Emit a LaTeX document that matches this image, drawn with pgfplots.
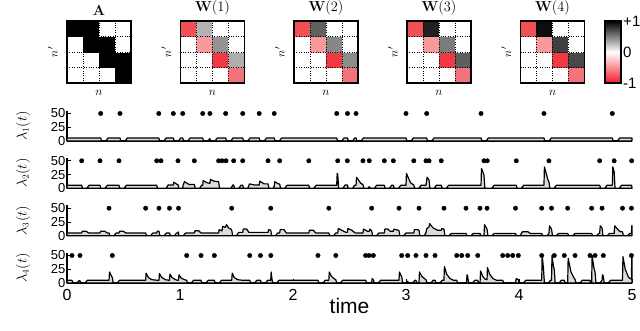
\documentclass[border=0pt]{standalone}
\usepackage[no-math]{fontspec}
\setmainfont{Liberation Sans}
\usepackage{pgfplots}
\usepackage{pgfplotstable}
\pgfplotsset{compat=1.18}

% connectivity matrices, row n' (top = 1) -> y = 5 - n'
\pgfplotstableread{
x y c
1 1 0
2 1 0
3 1 0
4 1 1
1 2 0
2 2 0
3 2 1
4 2 1
1 3 0
2 3 1
3 3 1
4 3 0
1 4 1
2 4 1
3 4 0
4 4 0
}\Atab
\pgfplotstableread{
x y c
1 1 0
2 1 0
3 1 0
4 1 -0.62
1 2 0
2 2 0
3 2 -0.88
4 2 0.32
1 3 0
2 3 -0.45
3 3 0.42
4 3 0
1 4 -0.78
2 4 0.30
3 4 0
4 4 0
}\Wone
\pgfplotstableread{
x y c
1 1 0
2 1 0
3 1 0
4 1 -0.62
1 2 0
2 2 0
3 2 -0.88
4 2 0.45
1 3 0
2 3 -0.45
3 3 0.47
4 3 0
1 4 -0.78
2 4 0.62
3 4 0
4 4 0
}\Wtwo
\pgfplotstableread{
x y c
1 1 0
2 1 0
3 1 0
4 1 -0.62
1 2 0
2 2 0
3 2 -0.88
4 2 0.63
1 3 0
2 3 -0.45
3 3 0.52
4 3 0
1 4 -0.78
2 4 0.87
3 4 0
4 4 0
}\Wthree
\pgfplotstableread{
x y c
1 1 0
2 1 0
3 1 0
4 1 -0.62
1 2 0
2 2 0
3 2 -0.88
4 2 0.72
1 3 0
2 3 -0.45
3 3 0.75
4 3 0
1 4 -0.78
2 4 0.95
3 4 0
4 4 0
}\Wfour

\pgfplotsset{
  /pgf/number format/assume math mode=true,
  mat/.style={
    width=64pt, height=62pt, scale only axis,
    xmin=0.5, xmax=4.5, ymin=0.5, ymax=4.5,
    xtick={1.5,2.5,3.5}, ytick={1.5,2.5,3.5},
    xticklabels={}, yticklabels={},
    major tick length=0pt,
    grid=major, grid style={black, dotted, line width=0.6pt},
    axis on top, axis line style={line width=1.6pt},
    colormap={rwk}{rgb255=(238,30,40) rgb255=(255,255,255) rgb255=(0,0,0)},
    point meta min=-1, point meta max=1,
    title style={at={(0.5,1)}, anchor=south, yshift=-4pt, font=\fontsize{15}{17}\selectfont},
    xlabel={$n$}, ylabel={$n'$},
    xlabel style={at={(axis description cs:0.5,-0.16)}, anchor=center, font=\fontsize{13}{15}\selectfont},
    ylabel style={at={(axis description cs:-0.22,0.5)}, anchor=center, font=\fontsize{13}{15}\selectfont},
  },
  ts/.style={
    width=565pt, height=30.25pt, scale only axis,
    xmin=0, xmax=5, ymin=0, ymax=55,
    axis x line*=bottom, axis y line*=left,
    axis line style={line width=1.5pt},
    ytick={0,25,50}, xtick=\empty,
    major tick length=3.5pt, tick style={line width=0.8pt, black},
    yticklabel style={font=\fontsize{13}{13}\selectfont, inner sep=1.5pt},
    clip=false,
    ylabel style={at={(axis description cs:-0.078,0.5)}, anchor=center, font=\fontsize{13.5}{15}\selectfont},
  },
  curve/.style={line width=1.2pt, black, fill=gray!28, line join=round},
  spk/.style={only marks, mark=*, mark size=2.2pt, black},
}

\begin{document}
\begin{tikzpicture}[x=1pt,y=1pt]
\useasboundingbox (0,0) rectangle (640,331);

% ---- matrices ----
\begin{axis}[mat, at={(67pt,248pt)}, anchor=south west, title={$\mathbf{A}$}]
  \addplot[matrix plot*, mesh/cols=4, point meta=explicit] table[meta=c] {\Atab};
\end{axis}
\begin{axis}[mat, at={(180.5pt,248pt)}, anchor=south west, title={$\mathbf{W}(1)$}]
  \addplot[matrix plot*, mesh/cols=4, point meta=explicit] table[meta=c] {\Wone};
\end{axis}
\begin{axis}[mat, at={(294pt,248pt)}, anchor=south west, title={$\mathbf{W}(2)$}]
  \addplot[matrix plot*, mesh/cols=4, point meta=explicit] table[meta=c] {\Wtwo};
\end{axis}
\begin{axis}[mat, at={(407pt,248pt)}, anchor=south west, title={$\mathbf{W}(3)$}]
  \addplot[matrix plot*, mesh/cols=4, point meta=explicit] table[meta=c] {\Wthree};
\end{axis}
\begin{axis}[mat, at={(520.5pt,248pt)}, anchor=south west, title={$\mathbf{W}(4)$},
  colorbar,
  colorbar style={width=16pt, at={(parent axis.north east)}, anchor=north west, xshift=12pt,
    ytick={-1,0,1}, yticklabels={-1,0,+1}, major tick length=0pt,
    yticklabel style={font=\fontsize{15}{17}\selectfont, inner sep=2pt},
    axis line style={line width=1.6pt}}]
  \addplot[matrix plot*, mesh/cols=4, point meta=explicit] table[meta=c] {\Wfour};
\end{axis}

% ---- lambda_1 ----
\begin{axis}[ts, at={(67pt,190pt)}, anchor=south west, ylabel={$\lambda_1(t)$}]
\addplot[curve] coordinates {
(0,5.5)(0.298,5.5)(0.306,0)(0.343,0)(0.363,5.5)
(0.469,5.5)(0.477,0)(0.514,0)(0.534,5.5)
(0.812,5.5)(0.820,0)(0.857,0)(0.877,5.5)
(0.941,5.5)(0.949,0)(0.986,0)(1.006,5.5)
(1.024,5.5)(1.032,0)(1.069,0)(1.089,5.5)
(1.201,5.5)(1.209,0)(1.246,0)(1.262,4)(1.265,4)(1.273,0)(1.310,0)(1.330,5.5)
(1.404,5.5)(1.412,0)(1.449,0)(1.469,5.5)
(1.555,5.5)(1.563,0)(1.600,0)(1.620,5.5)
(1.701,5.5)(1.709,0)(1.746,0)(1.766,5.5)
(1.834,5.5)(1.842,0)(1.879,0)(1.899,5.5)
(2.387,5.5)(2.395,0)(2.432,0)(2.452,5.5)
(2.482,5.5)(2.490,0)(2.527,0)(2.547,5.5)
(2.558,5.5)(2.566,0)(2.603,0)(2.623,5.5)
(3.000,5.5)(3.008,0)(3.045,0)(3.065,5.5)
(3.183,5.5)(3.191,0)(3.228,0)(3.248,5.5)
(3.664,5.5)(3.672,0)(3.709,0)(3.729,5.5)
(4.221,5.5)(4.229,0)(4.266,0)(4.286,5.5)
(4.826,5.5)(4.834,0)(4.871,0)(4.891,5.5)(5,5.5)
} \closedcycle;
\addplot[spk] coordinates {
(0.298,50)(0.469,50)(0.812,50)(0.941,50)(1.024,50)(1.201,50)(1.265,50)
(1.404,50)(1.555,50)(1.701,50)(1.834,50)(2.387,50)(2.482,50)(2.558,50)
(3.000,50)(3.183,50)(3.664,50)(4.221,50)(4.826,50)
};
\end{axis}

% ---- lambda_2 ----
\begin{axis}[ts, at={(67pt,142.7pt)}, anchor=south west, ylabel={$\lambda_2(t)$}]
\addplot[curve] coordinates {
(0,5.5)(0.130,5.5)(0.138,0)(0.175,0)(0.195,5.5)
(0.292,5.5)(0.300,0)(0.337,0)(0.357,5.5)
(0.460,5.5)(0.468,0)(0.505,0)(0.525,5.5)
(0.794,5.5)(0.802,0)(0.840,0)(0.877,0)(0.895,6)
(0.941,6)(0.945,11)(0.975,7)(0.982,7)(0.990,0)(1.024,0)(1.028,6)(1.040,12)(1.080,7)
(1.127,7)(1.135,0)(1.172,0)(1.192,5.5)
(1.201,5.5)(1.205,14)(1.240,10)(1.265,9)(1.269,16)(1.300,13)(1.342,12)(1.350,0)(1.450,0)(1.468,6)
(1.475,6)(1.483,0)(1.520,0)(1.540,5.5)(1.555,5.5)(1.563,0)(1.600,0)(1.615,8)(1.660,6)
(1.701,6)(1.705,13)(1.745,8)(1.779,8)(1.787,0)(1.824,0)(1.834,4)(1.838,12)(1.870,8)(1.882,8)(1.890,0)(1.927,0)(1.947,5.5)
(2.140,5.5)(2.148,0)(2.185,0)(2.205,5.5)
(2.387,5.5)(2.391,27)(2.396,25)(2.404,0)(2.441,0)(2.461,6)
(2.481,6)(2.489,0)(2.526,0)(2.546,5.5)
(2.558,5.5)(2.562,20)(2.600,9)(2.619,7)(2.627,0)(2.664,0)(2.675,3)(2.683,0)(2.720,0)(2.740,5.5)
(2.808,5.5)(2.816,0)(2.853,0)(2.873,5.5)
(2.888,5.5)(2.896,0)(2.933,0)(2.953,5.5)
(3.000,5.5)(3.004,27)(3.040,10)(3.069,6)(3.077,0)(3.114,0)(3.134,5.5)
(3.177,5.5)(3.187,20)(3.204,15)(3.212,0)(3.249,0)(3.269,5.5)
(3.312,5.5)(3.320,0)(3.357,0)(3.377,5.5)
(3.664,5.5)(3.668,36)(3.690,24)(3.698,0)(3.760,0)(3.780,5.5)
(3.976,5.5)(3.984,0)(4.021,0)(4.041,5.5)
(4.221,5.5)(4.225,39)(4.258,14)(4.265,12)(4.273,0)(4.310,0)(4.330,5.5)
(4.714,5.5)(4.722,0)(4.759,0)(4.779,5.5)
(4.826,5.5)(4.830,39)(4.842,30)(4.850,0)(4.887,0)(4.907,5.5)
(4.997,5.5)(5,0)
} \closedcycle;
\addplot[spk] coordinates {
(0.130,50)(0.292,50)(0.460,50)(0.794,50)(0.832,50)(0.982,50)(1.127,50)
(1.342,50)(1.372,50)(1.407,50)(1.475,50)(1.555,50)(1.779,50)(1.882,50)
(2.140,50)(2.396,50)(2.481,50)(2.619,50)(2.675,50)(2.808,50)(2.888,50)
(3.069,50)(3.177,50)(3.204,50)(3.312,50)(3.690,50)(3.719,50)(3.976,50)
(4.265,50)(4.714,50)(4.842,50)(4.997,50)
};
\end{axis}

% ---- lambda_3 ----
\begin{axis}[ts, at={(67pt,95.3pt)}, anchor=south west, ylabel={$\lambda_3(t)$}]
\addplot[curve] coordinates {
(0,5)(0.130,5)(0.135,8)(0.170,8)(0.190,5)
(0.292,5)(0.297,8)(0.335,8)(0.355,5)
(0.372,5)(0.380,0)(0.415,0)(0.435,5)
(0.460,5)(0.465,8)(0.500,8)(0.520,5)
(0.696,5)(0.704,0)(0.740,0)(0.760,5)
(0.794,5)(0.799,8)(0.814,8)(0.822,0)(0.860,0)(0.880,5)
(0.907,5)(0.915,0)(0.950,0)(0.970,5)
(0.982,5)(0.986,7)(0.990,0)(1.030,0)(1.050,5)
(1.127,5)(1.132,9)(1.165,9)(1.185,5)
(1.342,5)(1.347,11)(1.372,9)(1.377,17)(1.400,15)(1.412,20)(1.430,14)(1.450,12)(1.458,10)(1.466,0)(1.500,0)(1.520,6)
(1.555,6)(1.560,12)(1.590,12)(1.610,6)
(1.779,6)(1.784,11)(1.803,10)(1.811,0)(1.845,0)(1.865,5)
(1.882,5)(1.887,11)(1.920,11)(1.940,5)
(2.140,5)(2.145,10)(2.180,10)(2.200,5)
(2.317,5)(2.325,0)(2.360,0)(2.380,5)
(2.396,5)(2.401,13)(2.430,10)(2.470,6)(2.481,6)(2.486,13)(2.520,10)(2.550,5)
(2.619,5)(2.624,12)(2.660,8)(2.675,8)(2.680,12)(2.696,9)(2.704,0)(2.740,0)(2.760,5)
(2.808,5)(2.813,12)(2.840,12)(2.860,8)(2.888,8)(2.893,12)(2.930,10)(2.938,9)(2.946,0)(2.980,0)(3.000,5)
(3.069,5)(3.074,11)(3.100,11)(3.115,10)(3.123,0)(3.160,0)(3.177,5)(3.182,12)(3.204,16)(3.209,22)(3.240,14)(3.280,10)(3.312,10)(3.317,13)(3.336,12)(3.344,0)(3.380,0)(3.400,4)
(3.531,4)(3.539,0)(3.575,0)(3.595,4)
(3.655,4)(3.663,0)(3.690,0)(3.695,20)(3.717,12)(3.725,0)(3.760,0)(3.780,4)
(3.969,4)(3.977,0)(4.010,0)(4.030,7)(4.080,7)(4.100,4)
(4.201,4)(4.209,0)(4.245,0)(4.265,4)(4.270,18)(4.288,12)(4.296,0)(4.330,0)(4.350,4)
(4.431,4)(4.439,0)(4.475,0)(4.495,4)
(4.643,4)(4.651,0)(4.685,0)(4.705,4)(4.714,4)(4.719,18)(4.735,14)(4.743,0)(4.780,0)(4.800,4)
(4.842,4)(4.847,18)(4.880,10)(4.900,7)(4.916,7)(4.924,0)(4.960,0)(4.980,4)(4.995,4)(4.998,18)(5,18)
} \closedcycle;
\addplot[spk] coordinates {
(0.372,50)(0.696,50)(0.814,50)(0.907,50)(0.987,50)(1.458,50)(1.803,50)
(2.317,50)(2.696,50)(2.938,50)(3.115,50)(3.336,50)(3.531,50)(3.655,50)
(3.717,50)(3.969,50)(4.201,50)(4.288,50)(4.431,50)(4.643,50)(4.735,50)
(4.916,50)(4.995,50)
};
\end{axis}

% ---- lambda_4 ----
\begin{axis}[ts, at={(67pt,48pt)}, anchor=south west, ylabel={$\lambda_4(t)$},
  xtick={0,1,2,3,4,5}, xticklabel style={font=\fontsize{16}{18}\selectfont, yshift=-2.5pt},
  xlabel={time}, xlabel style={at={(axis description cs:0.5,-0.76)}, anchor=center, font=\fontsize{21}{23}\selectfont}]
\addplot[curve] coordinates {
(0,5)(0.044,5)(0.052,0)(0.085,0)(0.105,4)(0.115,4)(0.123,0)(0.160,0)(0.180,5)
(0.372,5)(0.376,20)(0.395,12)(0.401,10)(0.409,0)(0.445,0)(0.465,5)
(0.696,5)(0.700,18)(0.720,10)(0.750,6)(0.800,5)
(0.814,5)(0.818,17)(0.840,10)(0.870,6)(0.900,5)
(0.907,5)(0.911,16)(0.930,10)(0.960,6)(0.980,5)
(0.987,5)(0.991,15)(1.010,9)(1.040,6)(1.059,5)(1.067,0)(1.100,0)(1.120,5)
(1.186,5)(1.194,0)(1.230,0)(1.250,5)
(1.304,5)(1.312,0)(1.348,0)(1.368,5)
(1.458,5)(1.462,18)(1.480,10)(1.510,6)(1.550,5)
(1.617,5)(1.625,0)(1.660,0)(1.680,5)
(1.712,5)(1.720,0)(1.756,0)(1.776,5)
(1.803,5)(1.807,20)(1.812,10)(1.820,0)(1.856,0)(1.876,5)
(2.221,5)(2.229,0)(2.265,0)(2.285,5)
(2.317,5)(2.321,20)(2.340,12)(2.370,7)(2.379,6)(2.387,0)(2.420,0)(2.440,5)
(2.643,5)(2.651,0)(2.696,0)(2.700,8)(2.711,6)(2.719,0)(2.755,0)(2.775,5)
(2.938,5)(2.942,20)(2.955,14)(2.962,12)(2.970,0)(3.005,0)(3.015,3)(3.023,0)(3.060,0)(3.080,5)
(3.088,5)(3.096,0)(3.115,0)(3.119,20)(3.140,12)(3.170,7)(3.177,6)(3.185,0)(3.220,0)(3.240,5)
(3.257,5)(3.265,0)(3.300,0)(3.320,5)
(3.336,5)(3.340,30)(3.360,16)(3.390,8)(3.420,5)
(3.449,5)(3.457,0)(3.535,0)(3.540,15)(3.546,12)(3.554,0)(3.590,0)(3.610,5)
(3.635,5)(3.643,0)(3.655,0)(3.660,22)(3.680,12)(3.700,7)(3.717,6)(3.721,28)(3.740,16)(3.770,8)(3.800,5)
(3.856,5)(3.864,0)(3.969,0)(3.975,8)(3.994,6)(4.002,0)(4.040,0)(4.060,5)
(4.201,5)(4.205,50)(4.215,30)(4.225,0)(4.260,0)(4.280,5)(4.288,5)(4.292,50)(4.305,30)(4.312,25)(4.320,0)(4.355,0)(4.375,5)
(4.401,5)(4.409,0)(4.431,0)(4.435,45)(4.460,20)(4.490,8)(4.496,7)(4.504,0)(4.540,0)(4.560,5)
(4.628,5)(4.636,0)(4.643,0)(4.647,50)(4.665,25)(4.673,20)(4.681,0)(4.716,0)(4.735,5)(4.739,15)(4.746,12)(4.754,0)(4.790,0)(4.810,5)
(4.916,5)(4.920,48)(4.940,25)(4.970,10)(4.995,7)(4.998,50)(5,50)
} \closedcycle;
\addplot[spk] coordinates {
(0.044,50)(0.115,50)(0.401,50)(1.059,50)(1.186,50)(1.304,50)(1.617,50)
(1.712,50)(1.804,50)(2.221,50)(2.379,50)(2.643,50)(2.673,50)(2.711,50)
(2.962,50)(3.015,50)(3.088,50)(3.177,50)(3.257,50)(3.449,50)(3.493,50)
(3.546,50)(3.635,50)(3.856,50)(3.900,50)(3.944,50)(3.994,50)(4.201,50)
(4.312,50)(4.401,50)(4.496,50)(4.628,50)(4.673,50)(4.746,50)(4.995,50)
};
\end{axis}
\end{tikzpicture}
\end{document}
